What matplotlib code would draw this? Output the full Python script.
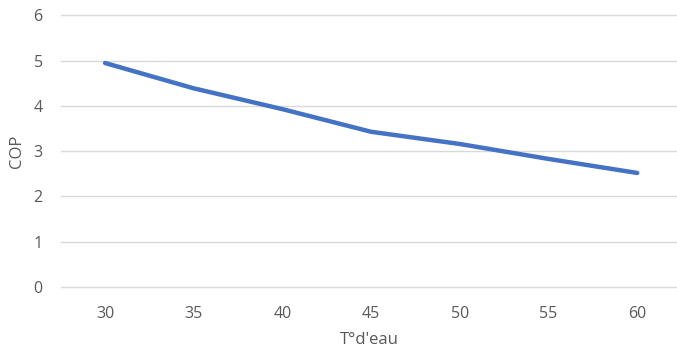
import matplotlib
matplotlib.use("Agg")
import matplotlib.pyplot as plt

# COP vs water temperature
temps = [30, 35, 40, 45, 50, 55, 60]
cop = [4.95, 4.39, 3.93, 3.43, 3.16, 2.83, 2.52]
y_ticks = [0, 1, 2, 3, 4, 5, 6]

plt.rcParams["font.family"] = ["Open Sans", "DejaVu Sans"]

fig = plt.figure(figsize=(6.77, 3.49), dpi=100)
ax = fig.add_axes([0.0897, 0.1777, 0.9103, 0.7779])

ax.plot(temps, cop, color="#4472C4", linewidth=3.2, solid_capstyle="round")

ax.set_xlim(27.5, 62.24)
ax.set_ylim(0, 6)
ax.set_yticks(y_ticks)
ax.set_xticks(temps)
ax.grid(axis="y", color="#D9D9D9", linewidth=1)
for gl in ax.get_ygridlines():
    gl.set_clip_on(False)
ax.set_axisbelow(True)
for s in ax.spines.values():
    s.set_visible(False)
ax.tick_params(length=0, labelsize=11.5, labelcolor="#595959")
ax.tick_params(axis="y", pad=13)
ax.tick_params(axis="x", pad=14)

ax.set_xlabel("T°d'eau", fontsize=12, color="#595959", labelpad=7)
ax.set_ylabel("COP", fontsize=12, color="#595959", labelpad=6)

fig.savefig("out.png", dpi=100)
